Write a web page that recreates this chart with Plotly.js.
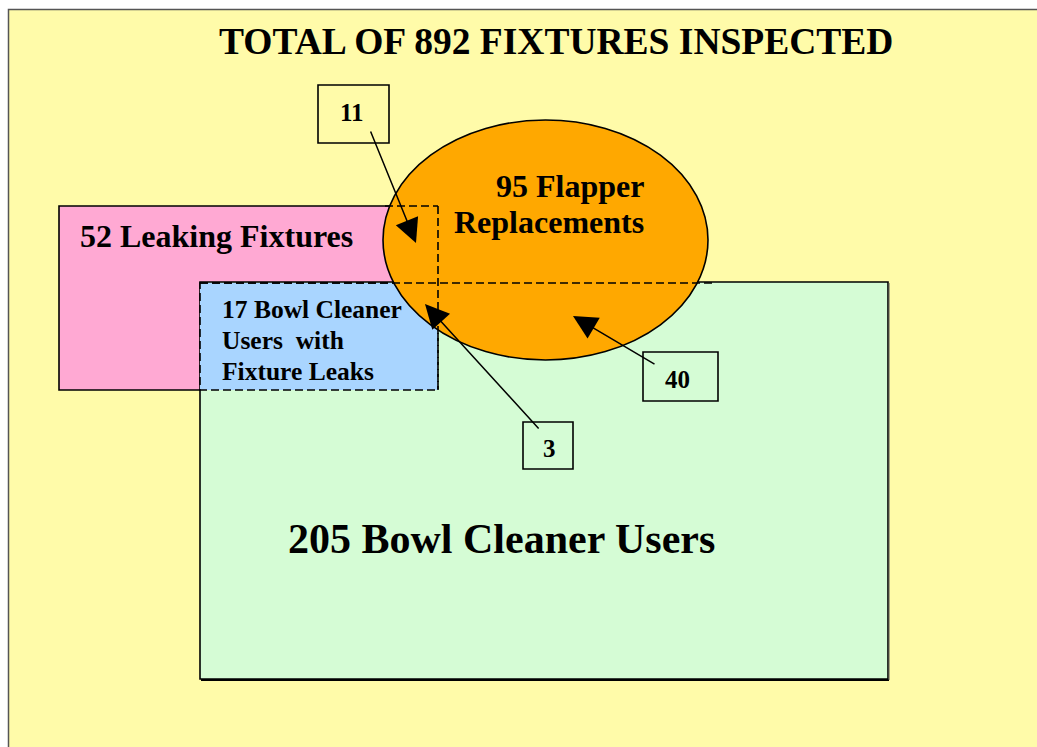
<!DOCTYPE html>
<html>
<head>
<meta charset="utf-8">
<script src="https://cdn.plot.ly/plotly-3.0.1.min.js"></script>
<style>html,body{margin:0;padding:0;background:#fff;}#chart{width:1037px;height:747px;}</style>
</head>
<body>
<div id="chart"></div>
<script>
// ---- data ----
const totalInspected = 892;
const setNames = ['Leaking Fixtures', 'Flapper|Replacements', 'Bowl Cleaner Users', 'Bowl Cleaner|Users\u00a0 with|Fixture Leaks'];
const setCounts = [52, 95, 205, 17];
const overlapCounts = [11, 3, 40];

// ---- styling / placement (pixels) ----
const FONT = 'Liberation Serif';
const colors = {bg: '#FFFBA9', pink: '#FFA9D3', orange: '#FFA800', green: '#D5FCD5', blue: '#A9D5FF'};

function lines(i) { return (setCounts[i] + ' ' + setNames[i]).split('|'); }

const shapes = [];
function rect(x0, y0, x1, y1, fill, line) {
  shapes.push({type: 'rect', xref: 'x', yref: 'y', x0, y0, x1, y1, fillcolor: fill, line: line || {width: 0}});
}
function seg(x0, y0, x1, y1, line) {
  shapes.push({type: 'line', xref: 'x', yref: 'y', x0, y0, x1, y1, line});
}
const solid = {color: '#000', width: 1.6};
const dashed = {color: '#000', width: 1.6, dash: '8px,4px'};

// background panel
rect(8.5, 9.5, 1045, 760, colors.bg, {color: '#555', width: 1.5});
// leaking fixtures
rect(59, 206, 438, 390, colors.pink, solid);
// bowl cleaner users
rect(200, 282, 888, 679, colors.green, solid);
seg(201, 680, 889, 680, {color: '#000', width: 2});
seg(889, 283, 889, 680, {color: '#555', width: 1});
// bowl cleaner with leaks
rect(200, 283, 438, 390, colors.blue, dashed);
// flapper ellipse
shapes.push({type: 'circle', xref: 'x', yref: 'y', x0: 383, y0: 120, x1: 708, y1: 360, fillcolor: colors.orange, line: solid});
// dashed overlaps over ellipse
seg(385, 206, 438, 206, dashed);
seg(438, 206, 438, 390, dashed);
seg(200, 283, 715, 283, dashed);
// number boxes
rect(318, 85, 389, 143, colors.bg, solid);
rect(523, 422, 573, 469, colors.green, solid);
rect(643, 352, 718, 401, colors.green, solid);

const ann = [];
function txt(x, y, text, size, xanchor, align) {
  ann.push({xref: 'x', yref: 'y', x, y, text, showarrow: false, xanchor: xanchor || 'left', yanchor: 'middle', align: align || 'left',
    font: {family: FONT, size, color: '#000', weight: 'bold'}});
}
function arrow(tx, ty, hx, hy) {
  ann.push({xref: 'x', yref: 'y', axref: 'x', ayref: 'y', x: hx, y: hy, ax: tx, ay: ty, text: '', showarrow: true,
    arrowhead: 2, arrowsize: 3.2, arrowwidth: 1.5, arrowcolor: '#000', standoff: 0, startstandoff: 0});
}

// title
ann.push({xref: 'x', yref: 'y', x: 556, y: 41, text: 'TOTAL OF ' + totalInspected + ' FIXTURES INSPECTED', showarrow: false,
  xanchor: 'center', yanchor: 'middle', font: {family: FONT, size: 37.5, color: '#000', weight: 'bold'}});

txt(78, 236, lines(0)[0], 32);
const fl = lines(1);
txt(646, 186, fl[0], 32, 'right');
txt(646, 222, fl[1], 32, 'right');
txt(286, 539, lines(2)[0], 42);
const bl = lines(3);
txt(220, 309, bl[0], 25.5);
txt(220, 340, bl[1], 25.5);
txt(220, 371, bl[2], 25.5);

txt(352, 112, String(overlapCounts[0]), 25, 'center', 'center');
txt(549, 448, String(overlapCounts[1]), 25, 'center', 'center');
txt(677, 379, String(overlapCounts[2]), 25, 'center', 'center');

arrow(370, 130, 416, 243);
arrow(540, 430, 425, 304);
arrow(656, 365, 573, 316);

const layout = {
  width: 1037, height: 747,
  margin: {l: 0, r: 0, t: 0, b: 0, pad: 0},
  paper_bgcolor: '#ffffff', plot_bgcolor: '#ffffff',
  xaxis: {range: [0, 1037], visible: false, fixedrange: true},
  yaxis: {range: [747, 0], visible: false, fixedrange: true},
  showlegend: false,
  shapes, annotations: ann
};
Plotly.newPlot('chart', [{x: [], y: [], type: 'scatter', mode: 'markers', hoverinfo: 'skip'}], layout, {staticPlot: true, displayModeBar: false});
</script>
</body>
</html>
